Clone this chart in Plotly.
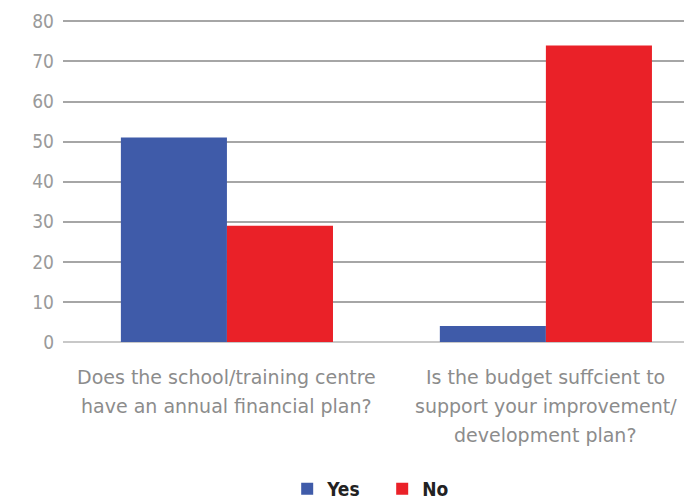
import plotly.graph_objects as go

questions = [
    ["Does the school/training centre", "have an annual financial plan?"],
    ["Is the budget suffcient to", "support your improvement/", "development plan?"],
]
yes_values = [51, 4]
no_values = [29, 74]
y_ticks = [0, 10, 20, 30, 40, 50, 60, 70, 80]

x_pos = list(range(len(questions)))
label_font = "DejaVu Sans, sans-serif"
legend_font = "DejaVu Sans Condensed, Liberation Sans Narrow, sans-serif"

plot_top, plot_bottom = 19, 342
plot_h = plot_bottom - plot_top

fig = go.Figure()
fig.add_trace(go.Bar(x=x_pos, y=yes_values, name="Yes", marker=dict(color="#3f5ba9", line=dict(width=0))))
fig.add_trace(go.Bar(x=x_pos, y=no_values, name="No", marker=dict(color="#ea2128", line=dict(width=0))))

# Category labels, one annotation per line for wider line spacing
for i, lines in enumerate(questions):
    for j, line in enumerate(lines):
        fig.add_annotation(
            x=i, xref="x", yref="paper",
            y=-(35 + 29 * j) / plot_h, yanchor="middle",
            text=line, showarrow=False,
            font=dict(family=label_font, size=19, color="#8c8c8c"),
        )

fig.update_layout(
    width=684, height=500,
    margin=dict(l=63, r=0, t=plot_top, b=500 - plot_bottom, autoexpand=False),
    paper_bgcolor="white", plot_bgcolor="white",
    barmode="group", bargap=0.335, bargroupgap=0,
    showlegend=True,
    legend=dict(
        orientation="h", x=0.514, xanchor="center",
        yref="container", y=11 / 500, yanchor="middle",
        font=dict(family=legend_font, size=19, color="#222222", weight="bold"),
        itemwidth=30, entrywidth=50, traceorder="normal",
    ),
    hovermode=False,
)
fig.update_xaxes(
    range=[-0.514, 1.433], showticklabels=False, showgrid=False,
    zeroline=False, showline=False, ticks="", automargin=False,
)
fig.update_yaxes(
    range=[0, 80.6], tickmode="array", tickvals=y_ticks,
    showgrid=True, gridcolor="#a6a6a6", gridwidth=2,
    zeroline=True, zerolinecolor="#c8c8c8", zerolinewidth=2,
    showline=False, ticks="", automargin=False,
    tickfont=dict(family=legend_font, size=19, color="#9a9a9a"),
    ticklabelstandoff=8,
)

fig.write_html("out.html")
